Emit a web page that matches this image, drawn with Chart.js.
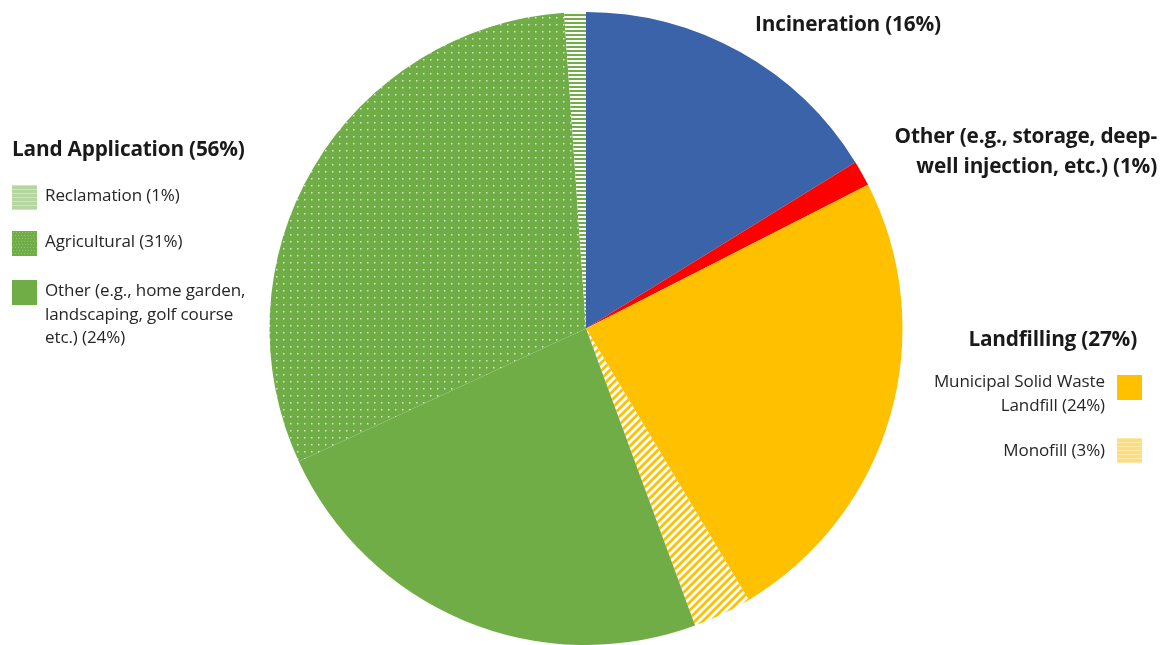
<!DOCTYPE html>
<html>
<head>
<meta charset="utf-8">
<script src="https://cdn.jsdelivr.net/npm/chart.js@4"></script>
<style>
  html, body { margin: 0; padding: 0; background: #fff; }
  #wrap { position: relative; width: 1173px; height: 645px; overflow: hidden; font-family: "Open Sans", Lato, sans-serif; color: #262626; }
  #chart { position: absolute; left: 0; top: 0; }
  .t { position: absolute; white-space: nowrap; }
  .head { font-weight: bold; font-size: 20.8px; color: #1a1a1a; letter-spacing: -0.2px; }
  .item { font-size: 17px; line-height: 23.5px; letter-spacing: -0.1px; }
  .sw { position: absolute; width: 25px; height: 25px; }
</style>
</head>
<body>
<div id="wrap">
  <canvas id="chart" width="1173" height="645"></canvas>

  <div class="t head" style="left:755px; top:9px;">Incineration (16%)</div>
  <div class="t head" style="right:16px; top:120px; text-align:right; line-height:30px;">Other (e.g., storage, deep-<br>well injection, etc.) (1%)</div>

  <div class="t head" style="left:12px; top:134px;">Land Application (56%)</div>
  <canvas class="sw" id="swRecl" width="25" height="25" style="left:12px; top:185px;"></canvas>
  <div class="t item" style="left:45px; top:183px;">Reclamation (1%)</div>
  <canvas class="sw" id="swAgri" width="25" height="25" style="left:12px; top:231px;"></canvas>
  <div class="t item" style="left:45px; top:229px;">Agricultural (31%)</div>
  <canvas class="sw" id="swOth" width="25" height="25" style="left:12px; top:280px;"></canvas>
  <div class="t item" style="left:45px; top:278px;">Other (e.g., home garden,<br>landscaping, golf course<br>etc.) (24%)</div>

  <div class="t head" style="right:36px; top:324px;">Landfilling (27%)</div>
  <div class="t item" style="right:68px; top:369px; text-align:right;">Municipal Solid Waste<br>Landfill (24%)</div>
  <canvas class="sw" id="swMsw" width="25" height="25" style="left:1117px; top:375px;"></canvas>
  <div class="t item" style="right:68px; top:438px; text-align:right;">Monofill (3%)</div>
  <canvas class="sw" id="swMono" width="25" height="25" style="left:1117px; top:438px;"></canvas>
</div>

<script>
// slices, clockwise from 12 o'clock
const categories = ['Incineration', 'Other (storage, deep-well injection, etc.)', 'Municipal Solid Waste Landfill', 'Monofill', 'Other land application (home garden, landscaping, golf course etc.)', 'Agricultural', 'Reclamation'];
const shares = [16.2, 1.3, 23.9, 3.0, 23.7, 30.8, 1.1];

const BLUE = '#3b63aa', RED = '#ff0000', YELLOW = '#ffc000', GREEN = '#70ad47';

function tile(w, h, draw) {
  const c = document.createElement('canvas');
  c.width = w; c.height = h;
  draw(c.getContext('2d'), w, h);
  return c;
}

const dotTile = tile(7, 7, (g, w, h) => {
  g.fillStyle = GREEN; g.fillRect(0, 0, w, h);
  g.fillStyle = 'rgba(255,255,255,0.7)';
  g.fillRect(3, 3, 1.5, 1.5);
});
const hStripeTile = tile(4, 4, (g, w, h) => {
  g.fillStyle = GREEN; g.fillRect(0, 0, w, h);
  g.fillStyle = '#fff'; g.fillRect(0, 0, w, 2);
});
const diagTile = tile(8, 8, (g, w, h) => {
  g.fillStyle = YELLOW; g.fillRect(0, 0, w, h);
  g.strokeStyle = '#fff'; g.lineWidth = 3;
  g.beginPath();
  g.moveTo(-2, 10); g.lineTo(10, -2);
  g.moveTo(-6, 6); g.lineTo(6, -6);
  g.moveTo(2, 14); g.lineTo(14, 2);
  g.stroke();
});

const ctx = document.getElementById('chart').getContext('2d');
const fills = [
  BLUE, RED, YELLOW,
  ctx.createPattern(diagTile, 'repeat'),
  GREEN,
  ctx.createPattern(dotTile, 'repeat'),
  ctx.createPattern(hStripeTile, 'repeat')
];

new Chart(ctx, {
  type: 'pie',
  data: {
    labels: categories,
    datasets: [{
      data: shares,
      backgroundColor: fills,
      borderWidth: 0
    }]
  },
  options: {
    responsive: false,
    animation: false,
    layout: { padding: { left: 269, right: 270, top: 12, bottom: 0 } },
    plugins: { legend: { display: false }, tooltip: { enabled: false } }
  }
});

// legend swatches
function swatch(id, draw) {
  const g = document.getElementById(id).getContext('2d');
  draw(g);
}
swatch('swRecl', g => {
  g.fillStyle = '#b5d6a0'; g.fillRect(0, 0, 25, 25);
  g.fillStyle = 'rgba(255,255,255,0.35)';
  for (let y = 0; y < 25; y += 4) g.fillRect(0, y, 25, 1);
});
swatch('swAgri', g => {
  g.fillStyle = GREEN; g.fillRect(0, 0, 25, 25);
  g.fillStyle = 'rgba(255,255,255,0.25)';
  for (let y = 1; y < 25; y += 3) for (let x = (y % 2); x < 25; x += 3) g.fillRect(x, y, 1, 1);
});
swatch('swOth', g => { g.fillStyle = GREEN; g.fillRect(0, 0, 25, 25); });
swatch('swMsw', g => { g.fillStyle = YELLOW; g.fillRect(0, 0, 25, 25); });
swatch('swMono', g => {
  g.fillStyle = '#ffdc7f'; g.fillRect(0, 0, 25, 25);
  g.fillStyle = 'rgba(255,255,255,0.35)';
  for (let y = 0; y < 25; y += 4) g.fillRect(0, y, 25, 1);
});
</script>
</body>
</html>
